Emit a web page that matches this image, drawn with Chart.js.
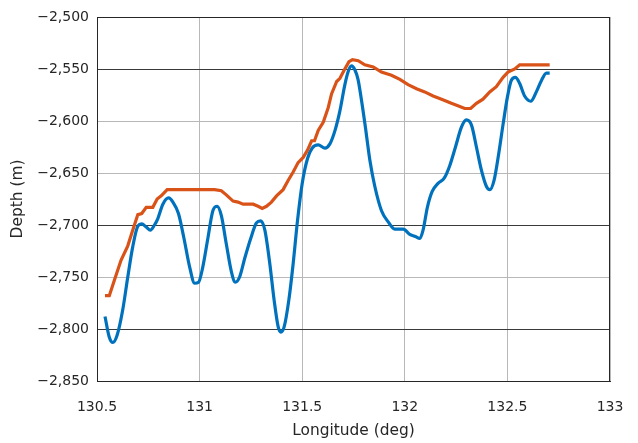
<!DOCTYPE html>
<html><head><meta charset="utf-8">
<script src="https://cdn.jsdelivr.net/npm/chart.js@4/dist/chart.umd.min.js"></script>
<style>html,body{margin:0;padding:0;background:#fff}#wrap{width:638px;height:443px}</style>
</head><body><div id="wrap"><canvas id="c" width="638" height="443"></canvas></div>
<script>
const blueLon = [130.539,130.560,130.577,130.598,130.625,130.650,130.674,130.699,130.718,130.740,130.760,130.780,130.796,130.821,130.849,130.870,130.897,130.923,130.951,130.976,130.995,131.016,131.041,131.065,131.086,131.106,131.130,131.155,131.174,131.195,131.220,131.249,131.277,131.298,131.318,131.342,131.363,131.383,131.396,131.412,131.435,131.456,131.477,131.500,131.526,131.549,131.578,131.611,131.635,131.660,131.684,131.708,131.725,131.740,131.757,131.772,131.789,131.808,131.830,131.854,131.886,131.919,131.951,131.992,132.024,132.052,132.073,132.089,132.110,132.133,132.162,132.192,132.219,132.247,132.276,132.300,132.325,132.349,132.373,132.398,132.414,132.435,132.458,132.479,132.500,132.519,132.539,132.560,132.584,132.614,132.641,132.666,132.690,132.706];
const blueDepth = [-2788,-2808,-2813,-2806,-2782,-2750,-2721,-2701,-2699,-2702,-2705,-2700,-2694,-2680,-2674,-2678,-2689,-2712,-2740,-2756,-2755,-2740,-2712,-2686,-2682,-2691,-2718,-2745,-2755,-2750,-2732,-2713,-2698,-2696,-2705,-2737,-2772,-2798,-2803,-2798,-2772,-2737,-2696,-2660,-2636,-2626,-2623,-2626,-2622,-2609,-2590,-2565,-2552,-2547,-2551,-2560,-2580,-2606,-2638,-2663,-2686,-2697,-2704,-2704,-2709,-2711,-2713,-2705,-2683,-2668,-2660,-2655,-2643,-2625,-2606,-2599,-2604,-2625,-2647,-2663,-2666,-2657,-2631,-2603,-2577,-2561,-2558,-2564,-2576,-2581,-2572,-2561,-2554,-2554];
const orangeLon = [130.539,130.560,130.585,130.617,130.650,130.674,130.699,130.718,130.740,130.772,130.793,130.813,130.842,130.959,131.073,131.106,131.130,131.163,131.187,131.212,131.261,131.285,131.305,131.326,131.350,131.375,131.407,131.432,131.456,131.480,131.505,131.526,131.546,131.560,131.578,131.603,131.627,131.643,131.668,131.684,131.705,131.728,131.745,131.773,131.805,131.846,131.886,131.935,131.976,132.016,132.057,132.097,132.138,132.179,132.227,132.268,132.292,132.321,132.349,132.381,132.414,132.446,132.479,132.503,132.536,132.560,132.633,132.706];
const orangeDepth = [-2768,-2768,-2753,-2734,-2720,-2705,-2690,-2689,-2683,-2683,-2675,-2672,-2666,-2666,-2666,-2667,-2671,-2677,-2678,-2680,-2680,-2682,-2684,-2682,-2678,-2672,-2666,-2657,-2649,-2640,-2635,-2628,-2619,-2619,-2609,-2601,-2587,-2574,-2562,-2559,-2551,-2543,-2541,-2542,-2546,-2548,-2553,-2556,-2560,-2565,-2569,-2572,-2576,-2579,-2583,-2586,-2588,-2588,-2583,-2579,-2572,-2567,-2558,-2553,-2550,-2546,-2546,-2546];
const xTicks = [130.5,131,131.5,132,132.5,133];
const yTicks = [-2850,-2800,-2750,-2700,-2650,-2600,-2550,-2500];
const xTickLabels = ['130.5','131','131.5','132','132.5','133'];
const yTickLabels = ['\u22122,850','\u22122,800','\u22122,750','\u22122,700','\u22122,650','\u22122,600','\u22122,550','\u22122,500'];

const toPts = (xs, ys) => xs.map((x, i) => ({x, y: ys[i]}));
const darkRows = [-2550,-2700,-2800];
const txt = '#262626';
const fontDef = {family: 'DejaVu Sans', size: 14};
const titleFont = {family: 'DejaVu Sans', size: 15.4};

const boxPlugin = {
  id: 'box',
  afterDatasetsDraw(chart) {
    const {ctx, chartArea: a} = chart;
    ctx.save();
    ctx.strokeStyle = '#262626';
    ctx.lineWidth = 1;
    ctx.strokeRect(Math.round(a.left) + 0.5, Math.round(a.top) + 0.5, Math.round(a.right - a.left) - 1, Math.round(a.bottom - a.top));
    ctx.restore();
  }
};

new Chart(document.getElementById('c'), {
  type: 'line',
  data: {
    datasets: [
      {data: toPts(blueLon, blueDepth), borderColor: '#0072BD', borderWidth: 3.2, pointRadius: 0, cubicInterpolationMode: 'monotone', fill: false, order: 1},
      {data: toPts(orangeLon, orangeDepth), borderColor: '#D95319', borderWidth: 3.2, pointRadius: 0, tension: 0, fill: false, order: 0}
    ]
  },
  options: {
    responsive: false,
    animation: false,
    devicePixelRatio: 1,
    layout: {padding: {left: 0, right: 28, top: 17, bottom: 0}},
    plugins: {legend: {display: false}, tooltip: {enabled: false}},
    scales: {
      x: {
        type: 'linear', min: 130.5, max: 133,
        afterBuildTicks: s => { s.ticks = xTicks.map(v => ({value: v})); },
        afterFit: s => { s.height = 62; s.paddingLeft = 0; s.paddingRight = 0; },
        ticks: {color: txt, font: fontDef, padding: 18, maxRotation: 0,
          callback: (v, i) => xTickLabels[i]},
        grid: {color: '#b8b8b8', lineWidth: 1, drawTicks: false},
        border: {display: true, color: '#262626', width: 1},
        title: {display: true, text: 'Longitude (deg)', color: txt, font: titleFont, padding: {top: 0, bottom: 3}}
      },
      y: {
        type: 'linear', min: -2850, max: -2500,
        afterBuildTicks: s => { s.ticks = yTicks.map(v => ({value: v})); },
        afterFit: s => { s.width = 97; s.paddingTop = 0; s.paddingBottom = 0; },
        ticks: {color: txt, font: fontDef, padding: 8,
          callback: (v, i) => yTickLabels[i]},
        grid: {color: c => darkRows.includes(c.tick && c.tick.value) ? '#3a3a3a' : '#b8b8b8', lineWidth: 1, drawTicks: false},
        border: {display: true, color: '#262626', width: 1},
        title: {display: true, text: 'Depth (m)', color: txt, font: titleFont, padding: {top: 9, bottom: 0}}
      }
    }
  },
  plugins: [boxPlugin]
});
</script></body></html>
